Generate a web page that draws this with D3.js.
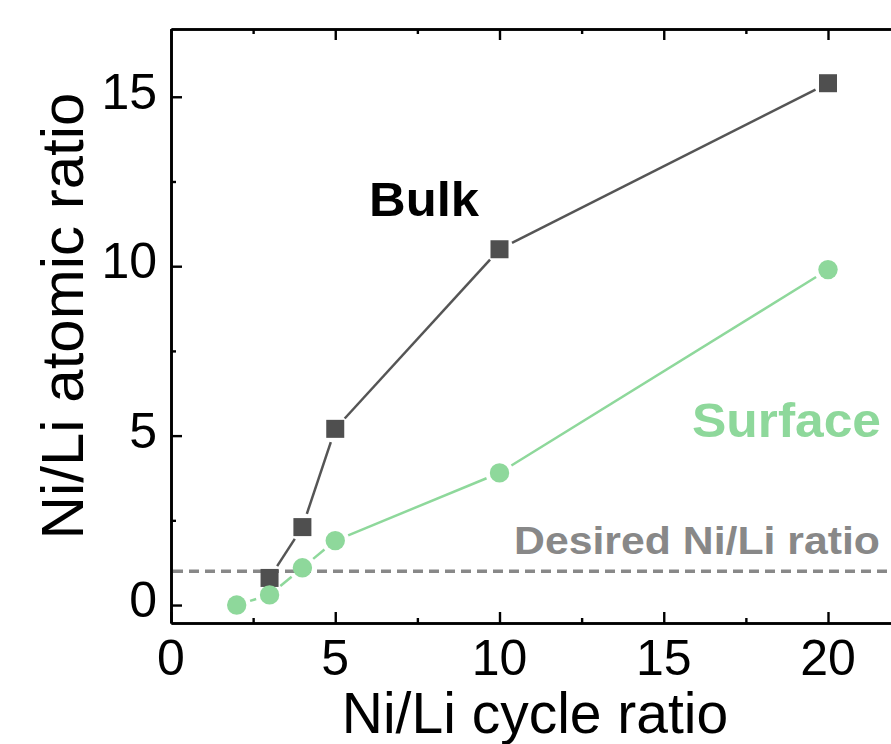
<!DOCTYPE html>
<html><head><meta charset="utf-8">
<script src="https://cdn.jsdelivr.net/npm/d3@7"></script>
<style>
html,body{margin:0;padding:0;background:#fff;}
svg{display:block;font-family:"Liberation Sans",Arial,Helvetica,sans-serif;}
</style></head>
<body>
<svg id="chart" width="891" height="744"></svg>
<script>
const bulkX = [3, 4, 5, 10, 20];
const bulkY = [0.8, 2.3, 5.2, 10.5, 15.4];
const surfX = [2, 3, 4, 5, 10, 20];
const surfY = [0.0, 0.3, 1.1, 1.9, 3.9, 9.9];
const desiredY = 1.0;
const xTicks = [0, 5, 10, 15, 20];
const xMinor = [2.5, 7.5, 12.5, 17.5];
const yTicks = [0, 5, 10, 15];
const yMinor = [2.5, 7.5, 12.5];
const xTitle = "Ni/Li cycle ratio";
const yTitle = "Ni/Li atomic ratio";
const labelBulk = "Bulk", labelSurf = "Surface", labelDesired = "Desired Ni/Li ratio";

const bulkColor = "#4f4f4f", surfColor = "#8ed89b", dashColor = "#888888";
const svg = d3.select("#chart");
const L = 171, R = 893.7, T = 29, B = 623;
const x = d3.scaleLinear().domain([0, 22]).range([L, R]);
const y = d3.scaleLinear().domain([-0.53, 17]).range([B, T]);

function axisStyle(g){ g.selectAll("path").attr("stroke","#000").attr("stroke-width",2.6);
  g.selectAll("line").attr("stroke","#000").attr("stroke-width",2.4); g.selectAll("text").remove(); }
svg.append("g").attr("transform",`translate(0,${B})`).call(d3.axisBottom(x).tickValues(xTicks).tickSizeInner(-11).tickSizeOuter(0)).call(axisStyle);
svg.append("g").attr("transform",`translate(0,${B})`).call(d3.axisBottom(x).tickValues(xMinor).tickSizeInner(-5).tickSizeOuter(0)).call(axisStyle);
svg.append("g").attr("transform",`translate(0,${T})`).call(d3.axisTop(x).tickValues(xTicks).tickSizeInner(-11).tickSizeOuter(0)).call(axisStyle);
svg.append("g").attr("transform",`translate(0,${T})`).call(d3.axisTop(x).tickValues(xMinor).tickSizeInner(-5).tickSizeOuter(0)).call(axisStyle);
svg.append("g").attr("transform",`translate(${L},0)`).call(d3.axisLeft(y).tickValues(yTicks).tickSizeInner(-11).tickSizeOuter(0)).call(axisStyle);
svg.append("g").attr("transform",`translate(${L},0)`).call(d3.axisLeft(y).tickValues(yMinor).tickSizeInner(-5).tickSizeOuter(0)).call(axisStyle);

svg.append("g").selectAll("text").data(xTicks).join("text")
  .attr("x", d => x(d)).attr("y", B + 52).attr("text-anchor","middle")
  .attr("font-size", 50).attr("fill","#000").text(d => d);
svg.append("g").selectAll("text").data(yTicks).join("text")
  .attr("x", L - 14).attr("y", d => y(d) + 12).attr("text-anchor","end")
  .attr("font-size", 50).attr("fill","#000").text(d => d);

svg.append("text").attr("x", 535).attr("y", 733).attr("text-anchor","middle")
  .attr("font-size", 57).attr("fill","#000").text(xTitle);
svg.append("text").attr("transform", `translate(83,316) rotate(-90)`).attr("text-anchor","middle")
  .attr("font-size", 60).attr("fill","#000").text(yTitle);

svg.append("line").attr("x1", L + 2).attr("x2", 891).attr("y1", y(desiredY)).attr("y2", y(desiredY))
  .attr("stroke", dashColor).attr("stroke-width", 3.5).attr("stroke-dasharray","10,6");

function segs(xs, ys, gap){
  const pts = xs.map((d,i)=>[x(d), y(ys[i])]);
  const out = [];
  for (let i=0;i<pts.length-1;i++){
    const [x1,y1]=pts[i],[x2,y2]=pts[i+1];
    const dx=x2-x1, dy=y2-y1, len=Math.hypot(dx,dy);
    if (len <= 2*gap) continue;
    const ux=dx/len, uy=dy/len;
    out.push([x1+ux*gap, y1+uy*gap, x2-ux*gap, y2-uy*gap]);
  }
  return out;
}
svg.append("g").selectAll("line").data(segs(surfX, surfY, 14)).join("line")
  .attr("x1",d=>d[0]).attr("y1",d=>d[1]).attr("x2",d=>d[2]).attr("y2",d=>d[3])
  .attr("stroke", surfColor).attr("stroke-width", 2.5);
svg.append("g").selectAll("line").data(segs(bulkX, bulkY, 14)).join("line")
  .attr("x1",d=>d[0]).attr("y1",d=>d[1]).attr("x2",d=>d[2]).attr("y2",d=>d[3])
  .attr("stroke", "#555").attr("stroke-width", 2.5);

svg.append("g").selectAll("rect").data(bulkX.map((d,i)=>[d,bulkY[i]])).join("rect")
  .attr("x", d => x(d[0]) - 9).attr("y", d => y(d[1]) - 9).attr("width", 18).attr("height", 18)
  .attr("fill", bulkColor);
svg.append("g").selectAll("circle").data(surfX.map((d,i)=>[d,surfY[i]])).join("circle")
  .attr("cx", d => x(d[0])).attr("cy", d => y(d[1])).attr("r", 9.7)
  .attr("fill", surfColor);

svg.append("text").attr("x", 369).attr("y", 216).attr("font-size", 48).attr("font-weight","bold")
  .attr("fill","#000").attr("textLength", 110).attr("lengthAdjust","spacingAndGlyphs").text(labelBulk);
svg.append("text").attr("x", 692).attr("y", 437).attr("font-size", 49).attr("font-weight","bold")
  .attr("fill", surfColor).attr("textLength", 189).attr("lengthAdjust","spacingAndGlyphs").text(labelSurf);
svg.append("text").attr("x", 514).attr("y", 554).attr("font-size", 38).attr("font-weight","bold")
  .attr("fill", dashColor).attr("textLength", 366).attr("lengthAdjust","spacingAndGlyphs").text(labelDesired);
</script>
</body></html>
